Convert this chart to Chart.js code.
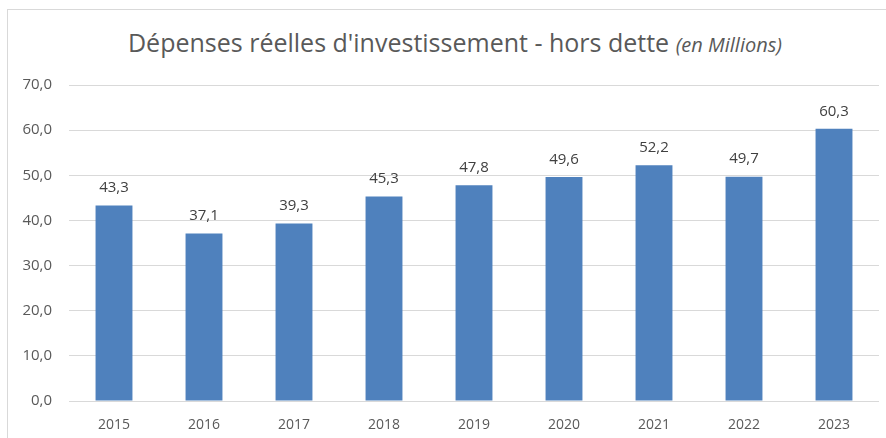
<!DOCTYPE html>
<html lang="fr">
<head>
<meta charset="UTF-8">
<title>Dépenses réelles d'investissement</title>
<script src="https://cdn.jsdelivr.net/npm/chart.js@4.4.1/dist/chart.umd.js"></script>
<style>
  html, body { margin: 0; padding: 0; background: #fff; overflow: hidden; }
  #wrap { position: relative; width: 886px; height: 438px; overflow: hidden; }
  #frame { position: absolute; left: 7px; top: 9px; width: 900px; height: 500px; border: 1px solid #d9d9d9; box-sizing: border-box; }
  #title { position: absolute; left: 0; top: 25px; width: 910px; text-align: center; color: #595959;
           font-family: "Open Sans", sans-serif; font-size: 25px; white-space: nowrap; }
  #title i { font-size: 20px; }
  canvas { position: absolute; left: 0; top: 0; }
</style>
</head>
<body>
<div id="wrap">
  <div id="frame"></div>
  <div id="title">Dépenses réelles d'investissement - hors dette <i>(en Millions)</i></div>
  <canvas id="chart" width="886" height="438"></canvas>
</div>
<script>
  const years = ['2015', '2016', '2017', '2018', '2019', '2020', '2021', '2022', '2023'];
  const depenses = [43.3, 37.1, 39.3, 45.3, 47.8, 49.6, 52.2, 49.7, 60.3];
  const yTicks = [0, 10, 20, 30, 40, 50, 60, 70];

  const fmt = v => v.toFixed(1).replace('.', ',');

  // draw the value above each bar
  const valueLabels = {
    id: 'valueLabels',
    afterDatasetsDraw(chart) {
      const ctx = chart.ctx;
      const meta = chart.getDatasetMeta(0);
      ctx.save();
      ctx.font = '15px "Open Sans", sans-serif';
      ctx.fillStyle = '#404040';
      ctx.textAlign = 'center';
      ctx.textBaseline = 'bottom';
      meta.data.forEach((bar, i) => {
        ctx.fillText(fmt(depenses[i]), bar.x, bar.y - 10);
      });
      ctx.restore();
    }
  };

  new Chart(document.getElementById('chart'), {
    type: 'bar',
    data: {
      labels: years,
      datasets: [{
        data: depenses,
        backgroundColor: '#4f81bd',
        categoryPercentage: 1,
        barPercentage: 0.41
      }]
    },
    options: {
      responsive: false,
      animation: false,
      layout: { padding: { top: 85, right: 7, bottom: 7, left: 0 } },
      plugins: { legend: { display: false }, tooltip: { enabled: false } },
      scales: {
        x: {
          grid: { display: false, drawTicks: false },
          border: { display: false },
          ticks: { color: '#595959', font: { family: '"Open Sans", sans-serif', size: 14 }, padding: 16 },
          afterFit(scale) { scale.height = 30; }
        },
        y: {
          min: 0,
          max: 70,
          afterBuildTicks(scale) { scale.ticks = yTicks.map(v => ({ value: v })); },
          grid: { color: '#d9d9d9', drawTicks: false },
          border: { display: false },
          ticks: { color: '#595959', font: { family: '"Open Sans", sans-serif', size: 15 }, padding: 17,
                   callback: v => fmt(v) },
          afterFit(scale) { scale.width = 69; }
        }
      }
    },
    plugins: [valueLabels]
  });
</script>
</body>
</html>
